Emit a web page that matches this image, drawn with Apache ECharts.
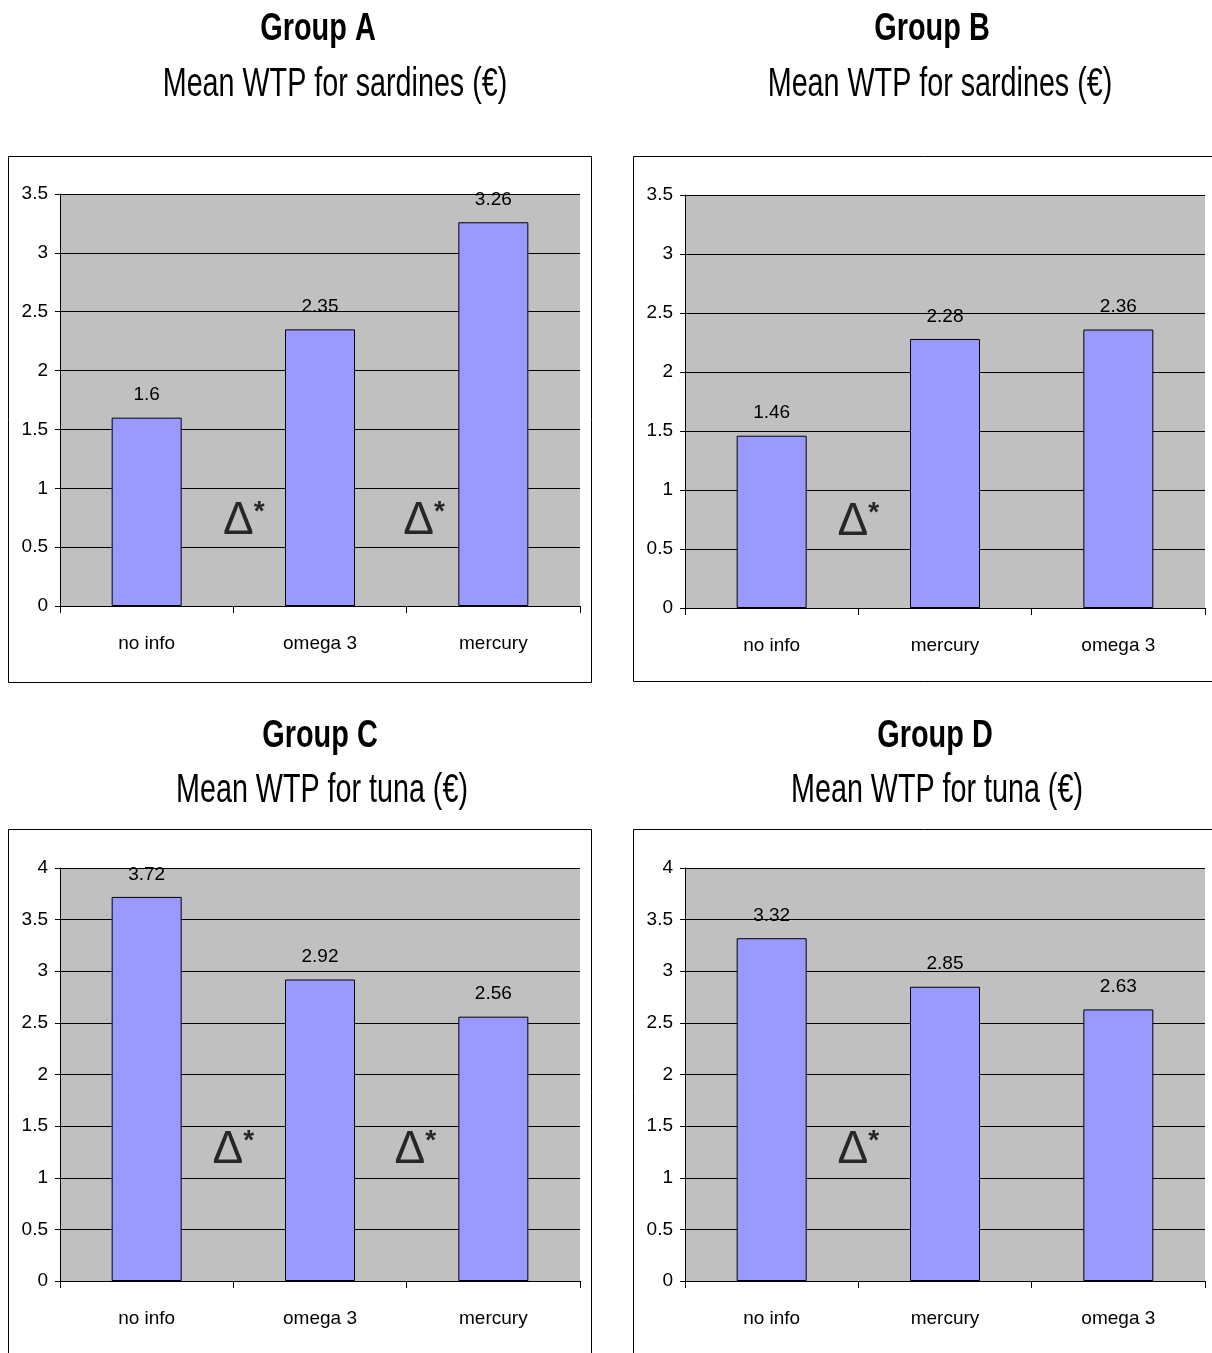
<!DOCTYPE html>
<html><head><meta charset="utf-8">
<script src="https://cdn.jsdelivr.net/npm/echarts@6/dist/echarts.min.js"></script>
<style>html,body{margin:0;padding:0;background:#fff}#c{width:1212px;height:1353px}</style>
</head><body><div id="c"></div>
<script>
const FONT = '"Liberation Sans Narrow","Arial Narrow","Liberation Sans",sans-serif';
const groups = ['Group A','Group B','Group C','Group D'];
const subtitles = ['Mean WTP for sardines (€)','Mean WTP for sardines (€)','Mean WTP for tuna (€)','Mean WTP for tuna (€)'];
const catsA = ['no info','omega 3','mercury'];
const catsB = ['no info','mercury','omega 3'];
const catsC = ['no info','omega 3','mercury'];
const catsD = ['no info','mercury','omega 3'];
const valsA = [1.6, 2.35, 3.26];
const valsB = [1.46, 2.28, 2.36];
const valsC = [3.72, 2.92, 2.56];
const valsD = [3.32, 2.85, 2.63];
const yMax = [3.5, 3.5, 4, 4];
// Δ* significance marks: [position along category span (0..3), y value]
const deltaA = [[1.06, 0.72], [2.1, 0.72]];
const deltaB = [[1.0, 0.73]];
const deltaC = [[1.0, 1.27], [2.05, 1.27]];
const deltaD = [[1.0, 1.27]];

const cats = [catsA, catsB, catsC, catsD];
const vals = [valsA, valsB, valsC, valsD];
const deltas = [deltaA, deltaB, deltaC, deltaD];

const grids = [
  {left: 60, top: 194, width: 520, height: 412},
  {left: 685, top: 195, width: 520, height: 413},
  {left: 60, top: 868, width: 520, height: 413},
  {left: 685, top: 868, width: 520, height: 413}
];
const boxes = [
  {x: 8.5, y: 156.5, width: 583, height: 526},
  {x: 633.5, y: 156.5, width: 600, height: 525},
  {x: 8.5, y: 829.5, width: 583, height: 540},
  {x: 633.5, y: 829.5, width: 600, height: 540}
];
const titlePos = [[318, 335, 30, 85], [932, 940, 30, 85], [320, 322, 737, 791], [935, 937, 737, 791]];

const xAxis = [], yAxis = [], series = [], graphic = [];
for (let k = 0; k < 4; k++) {
  xAxis.push({
    type: 'category', gridIndex: k, data: cats[k],
    axisLine: {lineStyle: {color: '#000', width: 1}},
    axisTick: {show: true, length: 7, lineStyle: {color: '#000'}},
    axisLabel: {fontFamily: FONT, fontSize: 19, color: '#000', margin: 28}
  });
  xAxis.push({
    type: 'value', gridIndex: k, min: 0, max: 3, show: false
  });
  yAxis.push({
    type: 'value', gridIndex: k, min: 0, max: yMax[k], interval: 0.5,
    axisLine: {show: true, lineStyle: {color: '#000', width: 1}},
    axisTick: {show: true, length: 5, lineStyle: {color: '#000'}},
    axisLabel: {fontFamily: FONT, fontSize: 19, color: '#000', margin: 12},
    splitLine: {show: true, lineStyle: {color: '#000', width: 1}}
  });
  series.push({
    type: 'bar', xAxisIndex: 2 * k, yAxisIndex: k, data: vals[k],
    barWidth: 70,
    itemStyle: {color: '#9999FF', borderColor: '#000', borderWidth: 1},
    label: {show: true, position: 'top', distance: 13, fontFamily: FONT, fontSize: 19, color: '#000'}
  });
  series.push({
    type: 'scatter', xAxisIndex: 2 * k + 1, yAxisIndex: k, data: deltas[k],
    symbolSize: 1, itemStyle: {color: 'rgba(0,0,0,0)'},
    label: {
      show: true, position: 'inside',
      formatter: '{d|Δ}{s|*}',
      rich: {
        d: {fontFamily: FONT, fontSize: 46, color: '#000'},
        s: {fontFamily: FONT, fontSize: 28, fontWeight: 'bold', color: '#000', verticalAlign: 'top', padding: [0, 0, 16, 0]}
      }
    },
    silent: true
  });
  graphic.push({
    type: 'rect', shape: boxes[k], style: {fill: 'none', stroke: '#000', lineWidth: 1}, z: -10
  });
  graphic.push({
    type: 'text', x: titlePos[k][0], y: titlePos[k][2], scaleX: 0.76,
    style: {text: groups[k], fontFamily: FONT, fontSize: 38, fontWeight: 'bold', fill: '#000', textAlign: 'center', textVerticalAlign: 'middle'}
  });
  graphic.push({
    type: 'text', x: titlePos[k][1], y: titlePos[k][3], scaleX: 0.70,
    style: {text: subtitles[k], fontFamily: FONT, fontSize: 41, fill: '#000', textAlign: 'center', textVerticalAlign: 'middle'}
  });
}

const chart = echarts.init(document.getElementById('c'));
chart.setOption({
  animation: false,
  backgroundColor: '#fff',
  grid: grids.map(g => Object.assign({containLabel: false, show: true, backgroundColor: '#C0C0C0', borderWidth: 0}, g)),
  xAxis, yAxis, series, graphic
});
</script></body></html>
